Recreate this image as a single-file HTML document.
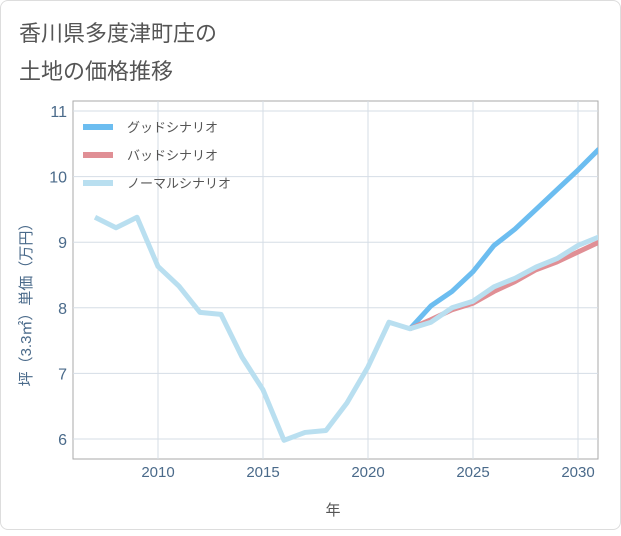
<!DOCTYPE html>
<html><head><meta charset="utf-8"><style>
body{margin:0;background:#fff;}
#card{position:absolute;left:0;top:0;width:619px;height:528px;border:1px solid #ddd;border-radius:8px;background:#fff;}
svg text{font-family:"Liberation Sans","Noto Sans CJK JP",sans-serif;}
</style></head><body>
<div id="card">
<svg id="chart" width="621" height="530">
<text x="18" y="40" font-size="22" fill="#555">香川県多度津町庄の</text>
<text x="18" y="78" font-size="22" fill="#555">土地の価格推移</text>
<g id="grid"></g><g id="series"></g><g id="legend"></g>
<text x="332" y="514" font-size="15" fill="#555" text-anchor="middle">年</text>
<text transform="translate(30,300) rotate(-90)" font-size="15" fill="#4a6a8a" text-anchor="middle">坪（3.3㎡）単価（万円）</text>
</svg></div>
<script>
const years=[2007,2008,2009,2010,2011,2012,2013,2014,2015,2016,2017,2018,2019,2020,2021,2022,2023,2024,2025,2026,2027,2028,2029,2030,2031];
const normal=[9.38,9.22,9.38,8.63,8.33,7.93,7.9,7.25,6.75,5.98,6.1,6.13,6.55,7.1,7.78,7.68,7.78,8.0,8.1,8.32,8.45,8.62,8.75,8.95,9.08];
const goodYears=[2022,2023,2024,2025,2026,2027,2028,2029,2030,2031];
const good=[7.68,8.03,8.25,8.55,8.95,9.2,9.5,9.8,10.1,10.42];
const bad=[7.68,7.82,7.97,8.07,8.25,8.4,8.58,8.7,8.85,9.0];
const yTicks=[6,7,8,9,10,11];
const xTicks=[2010,2015,2020,2025,2030];
const L=72,R=597,T=100,B=458;
const xs=v=>157+(v-2010)*21;
const ys=v=>438-(v-6)*65.6;
const NS='http://www.w3.org/2000/svg';
function mk(tag,attrs,parent){const e=document.createElementNS(NS,tag);for(const k in attrs)e.setAttribute(k,attrs[k]);parent.appendChild(e);return e;}
const grid=document.getElementById('grid');
const bg=mk('rect',{x:L,y:T,width:R-L,height:B-T,fill:'#fff',stroke:'#aaa','stroke-width':1},grid);


yTicks.forEach(t=>{
 const l=mk('line',{x1:L,x2:R,y1:ys(t),y2:ys(t),stroke:'#d5dde6','stroke-width':1},grid);
 
 
 const tx=mk('text',{x:L-6,y:ys(t)+6,'font-size':16,fill:'#4a6a8a','text-anchor':'end'},grid);
 tx.textContent=t;
 
 
});
xTicks.forEach(t=>{
 const l=mk('line',{x1:xs(t),x2:xs(t),y1:T,y2:B,stroke:'#d5dde6','stroke-width':1},grid);
 
 
 const tx=mk('text',{x:xs(t),y:B+18,'font-size':15,fill:'#4a6a8a','text-anchor':'middle'},grid);
 tx.textContent=t;
 
 
});
const sg=document.getElementById('series');
function line(xv,yv,color,name){
 const p=mk('polyline',{points:xv.map((x,i)=>xs(x)+','+ys(yv[i])).join(' '),fill:'none',stroke:color,'stroke-width':5,'stroke-linejoin':'round'},sg);
 
 
}
const clip=mk('clipPath',{id:'cp'},sg);mk('rect',{x:L,y:T,width:R-L,height:B-T},clip);
sg.setAttribute('clip-path','url(#cp)');
line(goodYears,good,'#6cbdf0','good-scenario-line');
line(goodYears,bad,'#e08f95','bad-scenario-line');
line(years,normal,'#b9dff0','normal-scenario-line');
const lg=document.getElementById('legend');
[['グッドシナリオ','#6cbdf0','legend-good'],['バッドシナリオ','#e08f95','legend-bad'],['ノーマルシナリオ','#b9dff0','legend-normal']].forEach((d,i)=>{
 const g=mk('g',{},lg);
 
 
 const y=126+i*28;
 mk('line',{x1:82,x2:112,y1:y,y2:y,stroke:d[1],'stroke-width':6},g);
 const t=mk('text',{x:126,y:y+5,'font-size':13,fill:'#555'},g);t.textContent=d[0];
});
</script></body></html>
